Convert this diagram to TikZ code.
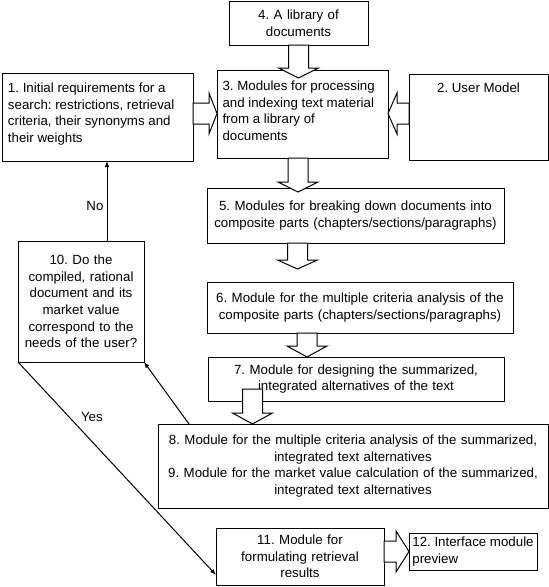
\documentclass[tikz,border=0pt]{standalone}
\usepackage{fontspec}
\setmainfont{Liberation Sans}
\usetikzlibrary{calc,arrows.meta}
\frenchspacing
\newcommand\fs{\fontsize{13.3pt}{16.6pt}\selectfont}
\newcommand\blkdown[3]{\draw[barrow] let \p1=(#1), \p2=(#2) in
  (\x1-10pt,\y1) -- (\x1-10pt,\y2+#3) -- (\x1-20pt,\y2+#3) -- (\x1,\y2) --
  (\x1+20pt,\y2+#3) -- (\x1+10pt,\y2+#3) -- (\x1+10pt,\y1) -- cycle;}
\newcommand\blkright[3]{\draw[barrow] let \p1=(#1), \p2=(#2) in
  (\x1,\y1+10.5pt) -- (\x2-#3,\y1+10.5pt) -- (\x2-#3,\y1+20.5pt) -- (\x2,\y1) --
  (\x2-#3,\y1-20.5pt) -- (\x2-#3,\y1-10.5pt) -- (\x1,\y1-10.5pt) -- cycle;}
\newcommand\blkleft[3]{\draw[barrow] let \p1=(#1), \p2=(#2) in
  (\x1,\y1+10.5pt) -- (\x2+#3,\y1+10.5pt) -- (\x2+#3,\y1+20.5pt) -- (\x2,\y1) --
  (\x2+#3,\y1-20.5pt) -- (\x2+#3,\y1-10.5pt) -- (\x1,\y1-10.5pt) -- cycle;}
\begin{document}
\begin{tikzpicture}[x=1pt,y=-1pt,
  box/.style={draw, line width=1pt, inner sep=0pt, outer sep=0pt, font=\fs, align=center},
  barrow/.style={draw, fill=white, line width=1pt, line join=miter},
  conn/.style={line width=1pt, -{Latex[length=6pt,width=4.5pt]}},
  lbl/.style={font=\fs, inner sep=1pt}]
\useasboundingbox[fill=white] (0,0) rectangle (549,587);
% boxes
\node[box, minimum width=139, minimum height=44, text width=130] (b4) at (298.5,23) {4. A library of\\documents};
\node[box, minimum width=191, minimum height=88] (b1) at (97.5,117)
  {\parbox[c][68pt][t]{179pt}{\raggedright 1. Initial requirements for a\\search: restrictions, retrieval\\criteria, their synonyms and\\their weights}};
\node[box, minimum width=171, minimum height=88] (b3) at (302.5,114)
  {\parbox[c][66pt][t]{160pt}{\raggedright 3. Modules for processing\\and indexing text material\\from a library of\\documents}};
\node[box, minimum width=139, minimum height=86] (b2) at (478.5,117)
  {\parbox[c][68pt][t]{130pt}{\centering 2. User Model}};
\node[box, minimum width=297, minimum height=55, text width=290] (b5) at (355.5,215.5)
  {5. Modules for breaking down documents into\\composite parts (chapters/sections/paragraphs)};
\node[box, minimum width=306, minimum height=51, text width=300] (b6) at (360,307.5)
  {6. Module for the multiple criteria analysis of the\\composite parts (chapters/sections/paragraphs)};
\node[box, minimum width=296, minimum height=44, text width=290] (b7) at (356,379)
  {7. Module for designing the summarized,\\integrated alternatives of the text};
\node[box, minimum width=390, minimum height=84, text width=384] (b8) at (353,466)
  {8. Module for the multiple criteria analysis of the summarized,\\integrated text alternatives\\9. Module for the market value calculation of the summarized,\\integrated text alternatives};
\node[box, minimum width=126, minimum height=121, text width=122] (b10) at (81,301.5)
  {10. Do the\\compiled, rational\\document and its\\market value\\correspond to the\\needs of the user?};
\node[box, minimum width=168, minimum height=57, text width=160] (b11) at (300,556.5)
  {11. Module for\\formulating retrieval\\results};
\node[box, minimum width=128, minimum height=37, align=left] (b12) at (473,551.5)
  {12. Interface module\\preview};
% block arrows
\coordinate (a13) at ($(b1.east)+(0,-3.5)$);
\coordinate (a35) at ($(b4.south |- b3.south)+(-0.5,0)$);
\coordinate (a56) at ($(b4.south |- b5.south)+(-1,0)$);
\coordinate (a67) at ($(b6.south west)+(100,0)$);
\coordinate (a78) at ($(b7.south west)+(44.5,-12)$);
\blkdown{b4.south}{$(b4.south |- b3.north)+(0,8)$}{10pt}
\blkdown{a35}{$(a35 |- b5.north)+(0,4)$}{10pt}
\blkdown{a56}{$(a56 |- b6.north)+(0,-13)$}{9pt}
\blkdown{a67}{a67 |- b7.north}{11pt}
\blkdown{a78}{a78 |- b8.north}{11pt}
\blkright{a13}{a13 -| b3.west}{8pt}
\blkleft{a13 -| b2.west}{a13 -| b3.east}{9pt}
\blkright{b12.west -| b11.east}{b12.west}{13pt}
% connectors
\coordinate (c10) at ($(b10.north west)+(89,0)$);
\coordinate (c11) at ($(b11.south west)+(0,-10)$);
\coordinate (c8) at ($(b8.north west)+(31,0)$);
\draw[conn] (c10) -- (c10 |- b1.south) node[lbl, pos=0.44, left=2pt] {No};
\draw[conn] (b10.south west) -- (c11) node[lbl, pos=0.25, anchor=west, xshift=12pt, yshift=-2pt] {Yes};
\draw[conn] (c8) -- (b10.south east);
\end{tikzpicture}
\end{document}
